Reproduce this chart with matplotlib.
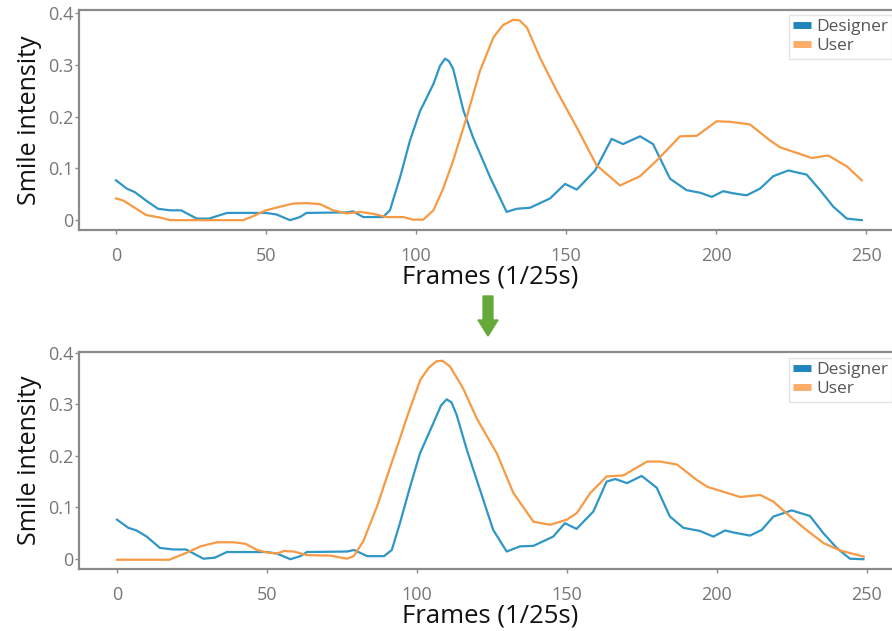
import matplotlib
matplotlib.use("Agg")
import matplotlib.pyplot as plt
from matplotlib.patches import FancyArrow

plt.rcParams['font.family'] = ['Open Sans', 'DejaVu Sans']

# ---- Data: top panel (before alignment) ----
top_designer_x = [0, 3.6, 6.3, 10, 14, 18, 21.7, 26.9, 31, 37, 50, 53.5, 58, 61.3, 63.5, 77, 79, 82.4, 89,
                  91.3, 94.7, 98, 101.3, 105.8, 108, 109.7, 111, 112.4, 115.8, 119, 124.7, 130.2, 133.6, 138,
                  144.7, 149.7, 153.6, 159.7, 165.2, 169, 174.7, 179, 184.7, 190.2, 194.7, 198.6, 202.4,
                  205.6, 210.2, 214.7, 219.1, 224.1, 230.2, 234.7, 239.1, 243.6, 248.6]
top_designer_y = [0.077, 0.061, 0.054, 0.038, 0.022, 0.019, 0.019, 0.003, 0.003, 0.014, 0.014, 0.011, 0.0,
                  0.006, 0.014, 0.015, 0.017, 0.006, 0.006, 0.019, 0.083, 0.154, 0.210, 0.263, 0.298, 0.312,
                  0.307, 0.292, 0.212, 0.160, 0.083, 0.016, 0.022, 0.024, 0.042, 0.070, 0.059, 0.096, 0.157,
                  0.147, 0.162, 0.147, 0.080, 0.058, 0.053, 0.045, 0.056, 0.052, 0.048, 0.061, 0.085, 0.096,
                  0.088, 0.058, 0.026, 0.003, 0.0]

top_user_x = [0, 2.4, 5.7, 10, 14.7, 18.2, 42.4, 45.8, 50, 54.7, 59, 63.6, 68, 72.4, 77, 81.3, 86, 90.2,
              95.8, 99, 102.4, 105.8, 109, 112.4, 116.9, 121.3, 125.8, 129, 132.4, 134.5, 137, 141.3, 146.9,
              153.6, 160.2, 168, 174.7, 180.2, 188, 193.6, 200.2, 204.7, 211.3, 218, 221.3, 227.4, 231.9,
              237.4, 243.6, 248.6]
top_user_y = [0.042, 0.038, 0.026, 0.010, 0.005, 0.0, 0.0, 0.008, 0.019, 0.026, 0.032, 0.033, 0.031, 0.019,
              0.013, 0.016, 0.012, 0.006, 0.006, 0.001, 0.001, 0.019, 0.060, 0.115, 0.199, 0.288, 0.353,
              0.377, 0.387, 0.386, 0.372, 0.314, 0.250, 0.179, 0.106, 0.067, 0.085, 0.115, 0.162, 0.163,
              0.191, 0.190, 0.185, 0.154, 0.141, 0.129, 0.120, 0.125, 0.104, 0.077]

# ---- Data: bottom panel (after alignment) ----
bot_designer_x = [0, 3.8, 6.5, 9.9, 14.3, 18.7, 23, 28.8, 32.6, 36.6, 50, 53.3, 57.8, 61.1, 63.3, 76.7, 79,
                  83.4, 89, 91.6, 94.3, 97.7, 101, 105.4, 108, 109.9, 111.5, 113.2, 116.6, 121, 125.4, 129.9,
                  134.3, 138.8, 145.4, 149.3, 153.2, 158.8, 163.2, 166.1, 170, 174.9, 179.9, 184.3, 188.8,
                  194.3, 198.8, 202.7, 205.5, 211, 214.9, 218.8, 224.9, 231, 235.4, 239.9, 244.3, 248.8]
bot_designer_y = [0.076, 0.060, 0.055, 0.043, 0.021, 0.018, 0.018, 0.0, 0.002, 0.013, 0.013, 0.010, -0.001,
                  0.005, 0.013, 0.014, 0.017, 0.005, 0.005, 0.017, 0.069, 0.140, 0.205, 0.263, 0.298, 0.310,
                  0.304, 0.280, 0.212, 0.134, 0.056, 0.014, 0.024, 0.025, 0.043, 0.069, 0.058, 0.092, 0.150,
                  0.155, 0.147, 0.161, 0.138, 0.082, 0.060, 0.054, 0.043, 0.055, 0.051, 0.045, 0.056, 0.082,
                  0.094, 0.083, 0.050, 0.021, 0.0, -0.001]

bot_user_x = [0, 17.4, 23, 27.8, 33.3, 38.9, 42.8, 46.7, 50, 53.3, 55.6, 58.9, 63.3, 71.1, 76.7, 78.9, 82.1,
              86.7, 90, 93.4, 96.7, 101.1, 104, 106.5, 108.5, 111, 115.4, 119.9, 126.6, 132.1, 138.8, 144.4,
              150, 153.3, 157.8, 163.2, 168.8, 176.7, 181.1, 186.7, 193.3, 196.7, 203.3, 207.8, 214.4,
              218.8, 224.4, 230, 235.6, 241.1, 248.9]
bot_user_y = [-0.002, -0.002, 0.011, 0.024, 0.032, 0.032, 0.029, 0.017, 0.012, 0.010, 0.015, 0.014, 0.007,
              0.006, 0.0, 0.005, 0.034, 0.102, 0.160, 0.218, 0.276, 0.348, 0.372, 0.384, 0.385, 0.374,
              0.331, 0.273, 0.205, 0.128, 0.072, 0.066, 0.076, 0.089, 0.128, 0.160, 0.162, 0.189, 0.189,
              0.183, 0.153, 0.140, 0.128, 0.120, 0.124, 0.111, 0.082, 0.055, 0.030, 0.016, 0.004]

series_names = ["Designer", "User"]
x_ticks = [0, 50, 100, 150, 200, 250]
y_ticks = [0, 0.1, 0.2, 0.3, 0.4]
y_ticklabels = ["0", "0.1", "0.2", "0.3", "0.4"]
x_label = "Frames (1/25s)"
y_label = "Smile intensity"

BLUE = "#2f96c6"
ORANGE = "#f79a45"
LEG_BLUE = "#1f86bd"
LEG_ORANGE = "#fcac68"
SPINE = "#8a8a8a"
TICKTXT = "#777777"

fig = plt.figure(figsize=(8.92, 6.31), dpi=100)
W, H = 892.0, 631.0

def make_axes(left_px, top_px, bottom_px, x0_px, ymin, ymax):
    right_px = 902.0
    ax = fig.add_axes([left_px / W, 1 - bottom_px / H, (right_px - left_px) / W, (bottom_px - top_px) / H])
    ax.set_xlim((left_px - x0_px) / 3.0, (right_px - x0_px) / 3.0)
    ax.set_ylim(ymin, ymax)
    for s in ["left", "top", "bottom", "right"]:
        ax.spines[s].set_color(SPINE)
        ax.spines[s].set_linewidth(1.6)
    ax.set_xticks(x_ticks)
    ax.set_xticklabels([str(t) for t in x_ticks])
    ax.set_yticks(y_ticks)
    ax.set_yticklabels(y_ticklabels)
    ax.tick_params(axis="both", colors=SPINE, labelcolor=TICKTXT, labelsize=13, length=3, width=1)
    ax.tick_params(axis="x", pad=9)
    ax.tick_params(axis="y", pad=1)
    ax.set_xlabel(x_label, fontsize=18.5, color="#111111", labelpad=0)
    ax.set_ylabel(y_label, fontsize=18, color="#111111", labelpad=4)
    return ax

ax1 = make_axes(79, 10, 230, 116, -0.019, 0.406)
ax1.plot(top_designer_x, top_designer_y, color=BLUE, lw=1.6)
ax1.plot(top_user_x, top_user_y, color=ORANGE, lw=1.6)

ax2 = make_axes(79, 352, 569, 117, -0.020, 0.402)
ax2.plot(bot_designer_x, bot_designer_y, color=BLUE, lw=1.6)
ax2.plot(bot_user_x, bot_user_y, color=ORANGE, lw=1.6)

def legend_at(top_px):
    handles = [plt.Line2D([], [], color=LEG_BLUE, lw=5, solid_capstyle="butt"),
               plt.Line2D([], [], color=LEG_ORANGE, lw=5, solid_capstyle="butt")]
    leg = fig.legend(handles, series_names, loc="upper left",
                     bbox_to_anchor=(789 / W, 1 - top_px / H), frameon=True, fontsize=12.5,
                     handlelength=1.0, handletextpad=0.3, labelspacing=0.15, borderpad=0.25,
                     borderaxespad=0, fancybox=False)
    leg.get_frame().set_edgecolor("#dddddd")
    leg.get_frame().set_linewidth(1.0)
    for t in leg.get_texts():
        t.set_color("#555555")

legend_at(15)
legend_at(358)

arrow = FancyArrow(488 / W, 1 - 296 / H, 0, -(40 / H), width=7 / H, head_width=20 / W,
                   head_length=16 / H, length_includes_head=True, color="#67a83a",
                   transform=fig.transFigure)
fig.add_artist(arrow)

fig.savefig("out.png", dpi=100)
